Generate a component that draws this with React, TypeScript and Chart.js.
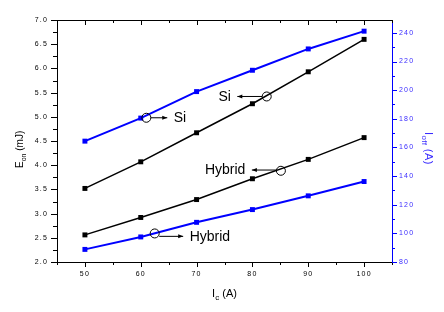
import React, { useEffect, useRef } from "react";
import { Chart, registerables } from "chart.js";

Chart.register(...registerables);

// ---- data ----
const currentA = [50, 60, 70, 80, 90, 100];
const eonSi = [3.52, 4.07, 4.67, 5.27, 5.93, 6.6];
const eonHybrid = [2.56, 2.92, 3.29, 3.72, 4.12, 4.57];
const ioffSi = [164.4, 180.5, 199, 213.9, 228.8, 241.2];
const ioffHybrid = [88.8, 97.5, 107.7, 116.6, 126.2, 136.2];

const xTicks = [50, 60, 70, 80, 90, 100];
const yTicks = [2, 2.5, 3, 3.5, 4, 4.5, 5, 5.5, 6, 6.5, 7];
const y2Ticks = [80, 100, 120, 140, 160, 180, 200, 220, 240];

// annotation anchors in data units (x, left-axis value)
const noteLabels = ["Si", "Si", "Hybrid", "Hybrid"];
const noteCircle = [[61, 4.98], [82.56, 5.42], [85.1, 3.885], [62.5, 2.59]];
const noteTip = [[64.75, 4.98], [77.3, 5.42], [79.9, 3.9], [67.6, 2.53]];
const noteSide = ["right", "left", "left", "right"];

const FONT = "'Liberation Sans', Arial, sans-serif";
const BLUE = "#0000ff";
const BLUE_TEXT = "#3a2cff";

const pair = (xs: number[], ys: number[]) => xs.map((x, i) => ({ x, y: ys[i] }));

const decorPlugin = {
  id: "decor",
  beforeDraw(chart: any) {
    chart.ctx.letterSpacing = "1.2px";
  },
  beforeDatasetsDraw(chart: any) {
    chart.ctx.letterSpacing = "0px";
  },
  afterDraw(chart: any) {
    const ctx = chart.ctx as CanvasRenderingContext2D;
    const { left, right, top, bottom } = chart.chartArea;
    const xs = chart.scales.x;
    const ys = chart.scales.y;
    const y2 = chart.scales.y2;
    ctx.save();
    ctx.letterSpacing = "0px";
    ctx.lineWidth = 1;

    // top frame line
    ctx.strokeStyle = "#000";
    ctx.beginPath();
    ctx.moveTo(left, Math.round(top) + 0.5);
    ctx.lineTo(right, Math.round(top) + 0.5);
    ctx.stroke();

    // x ticks (bottom outward, top inward)
    for (let v = 45; v <= 105; v += 5) {
      const px = Math.round(xs.getPixelForValue(v)) + 0.5;
      const major = v % 10 === 0;
      ctx.beginPath();
      ctx.moveTo(px, bottom);
      ctx.lineTo(px, bottom + (major ? 5 : 3));
      ctx.moveTo(px, top);
      ctx.lineTo(px, top + (major ? 5 : 3));
      ctx.stroke();
    }
    // left y ticks
    for (let v = 2; v <= 7.001; v += 0.25) {
      const py = Math.round(ys.getPixelForValue(v)) + 0.5;
      const major = Math.abs(v * 2 - Math.round(v * 2)) < 1e-6;
      ctx.beginPath();
      ctx.moveTo(left, py);
      ctx.lineTo(left - (major ? 6 : 4), py);
      ctx.stroke();
    }
    // right y ticks
    ctx.strokeStyle = BLUE;
    for (let v = 80; v <= 240; v += 10) {
      const py = Math.round(y2.getPixelForValue(v)) + 0.5;
      const major = v % 20 === 0;
      ctx.beginPath();
      ctx.moveTo(right, py);
      ctx.lineTo(right + (major ? 5 : 3), py);
      ctx.stroke();
    }

    // axis titles
    ctx.textBaseline = "alphabetic";
    ctx.textAlign = "left";
    // left: E_on (mJ)
    ctx.fillStyle = "#000";
    ctx.save();
    ctx.translate(22.5, (top + bottom) / 2 + 27);
    ctx.rotate(-Math.PI / 2);
    let cx = 0;
    ctx.font = `10px ${FONT}`;
    ctx.fillText("E", cx, 0);
    cx += ctx.measureText("E").width;
    ctx.font = `7px ${FONT}`;
    ctx.fillText("on", cx, 3.5);
    cx += ctx.measureText("on").width;
    ctx.font = `10px ${FONT}`;
    ctx.fillText(" (mJ)", cx, 0);
    ctx.restore();

    // right: I_off (A)
    ctx.fillStyle = BLUE_TEXT;
    ctx.save();
    ctx.translate(425, (top + bottom) / 2 - 9);
    ctx.rotate(Math.PI / 2);
    ctx.letterSpacing = "0.4px";
    cx = 0;
    ctx.font = `11px ${FONT}`;
    ctx.fillText("I", cx, 0);
    cx += ctx.measureText("I").width;
    ctx.font = `8px ${FONT}`;
    ctx.fillText("off", cx, 3.5);
    cx += ctx.measureText("off").width;
    ctx.font = `11px ${FONT}`;
    ctx.fillText(" (A)", cx, 0);
    ctx.restore();

    // bottom: I_c (A)
    ctx.fillStyle = "#000";
    ctx.font = `11px ${FONT}`;
    const wI = ctx.measureText("I").width;
    const wA = ctx.measureText(" (A)").width;
    ctx.font = `8px ${FONT}`;
    const wc = ctx.measureText("c").width;
    let bx = (left + right) / 2 - (wI + wc + wA) / 2;
    ctx.font = `11px ${FONT}`;
    ctx.fillText("I", bx, 297);
    bx += wI;
    ctx.font = `8px ${FONT}`;
    ctx.fillText("c", bx, 300);
    bx += wc;
    ctx.font = `11px ${FONT}`;
    ctx.fillText(" (A)", bx, 297);

    // annotations
    ctx.strokeStyle = "#000";
    ctx.fillStyle = "#000";
    ctx.lineWidth = 1;
    ctx.font = `14px ${FONT}`;
    ctx.textBaseline = "middle";
    const r = 4.5;
    for (let i = 0; i < noteLabels.length; i++) {
      const cxp = xs.getPixelForValue(noteCircle[i][0]);
      const cyp = ys.getPixelForValue(noteCircle[i][1]);
      const txp = xs.getPixelForValue(noteTip[i][0]);
      const typ = ys.getPixelForValue(noteTip[i][1]);
      const dir = noteSide[i] === "right" ? 1 : -1;
      ctx.beginPath();
      ctx.arc(cxp, cyp, r, 0, Math.PI * 2);
      ctx.stroke();
      ctx.beginPath();
      ctx.moveTo(cxp + dir * r, typ);
      ctx.lineTo(txp, typ);
      ctx.stroke();
      ctx.beginPath();
      ctx.moveTo(txp, typ);
      ctx.lineTo(txp - dir * 5, typ - 2);
      ctx.lineTo(txp - dir * 5, typ + 2);
      ctx.closePath();
      ctx.fill();
      ctx.textAlign = dir === 1 ? "left" : "right";
      ctx.fillText(noteLabels[i], txp + dir * 6.5, typ + 0.5);
    }
    ctx.restore();
  },
};

export default function App() {
  const ref = useRef<HTMLCanvasElement>(null);
  useEffect(() => {
    if (!ref.current) return;
    const chart = new Chart(ref.current, {
      type: "line",
      data: {
        datasets: [
          {
            label: "Eon Si",
            data: pair(currentA, eonSi),
            yAxisID: "y",
            borderColor: "#000",
            backgroundColor: "#000",
            borderWidth: 1.5,
            pointStyle: "rect",
            pointRadius: 3.5,
            pointBorderWidth: 0,
          },
          {
            label: "Eon Hybrid",
            data: pair(currentA, eonHybrid),
            yAxisID: "y",
            borderColor: "#000",
            backgroundColor: "#000",
            borderWidth: 1.5,
            pointStyle: "rect",
            pointRadius: 3.5,
            pointBorderWidth: 0,
          },
          {
            label: "Ioff Si",
            data: pair(currentA, ioffSi),
            yAxisID: "y2",
            borderColor: BLUE,
            backgroundColor: BLUE,
            borderWidth: 2,
            pointStyle: "rect",
            pointRadius: 3.5,
            pointBorderWidth: 0,
          },
          {
            label: "Ioff Hybrid",
            data: pair(currentA, ioffHybrid),
            yAxisID: "y2",
            borderColor: BLUE,
            backgroundColor: BLUE,
            borderWidth: 2,
            pointStyle: "rect",
            pointRadius: 3.5,
            pointBorderWidth: 0,
          },
        ],
      },
      options: {
        animation: false,
        responsive: false,
        layout: { padding: { top: 20, left: 0, right: 0, bottom: 0 } },
        plugins: { legend: { display: false }, tooltip: { enabled: false } },
        elements: { line: { tension: 0 } },
        scales: {
          x: {
            type: "linear",
            position: "bottom",
            min: 45,
            max: 105,
            afterBuildTicks: (s: any) => {
              s.ticks = xTicks.map((v) => ({ value: v }));
            },
            afterFit: (s: any) => {
              s.height = 50;
            },
            grid: { display: false, drawTicks: false, tickLength: 0 },
            border: { display: true, color: "#000", width: 1 },
            ticks: {
              autoSkip: false,
              maxRotation: 0,
              padding: 8,
              color: "#000",
              font: { family: FONT, size: 7 },
              callback: (v: any) => String(v),
            },
          },
          y: {
            type: "linear",
            position: "left",
            min: 2,
            max: 7,
            afterBuildTicks: (s: any) => {
              s.ticks = yTicks.map((v) => ({ value: v }));
            },
            afterFit: (s: any) => {
              s.width = 57;
            },
            grid: { display: false, drawTicks: false, tickLength: 0 },
            border: { display: true, color: "#000", width: 1 },
            ticks: {
              padding: 9,
              color: "#000",
              font: { family: FONT, size: 7 },
              callback: (v: any) => Number(v).toFixed(1),
            },
          },
          y2: {
            type: "linear",
            position: "right",
            min: 80,
            max: 249,
            afterBuildTicks: (s: any) => {
              s.ticks = y2Ticks.map((v) => ({ value: v }));
            },
            afterFit: (s: any) => {
              s.width = 52;
            },
            grid: { display: false, drawTicks: false, tickLength: 0 },
            border: { display: true, color: BLUE, width: 1 },
            ticks: {
              padding: 7,
              color: BLUE_TEXT,
              font: { family: FONT, size: 7 },
              callback: (v: any) => String(v),
            },
          },
        },
      },
      plugins: [decorPlugin],
    } as any);
    return () => chart.destroy();
  }, []);
  return (
    <div style={{ position: "absolute", left: 0, top: 0, width: 444, height: 312 }}>
      <canvas ref={ref} width={444} height={312} style={{ display: "block" }} />
    </div>
  );
}
